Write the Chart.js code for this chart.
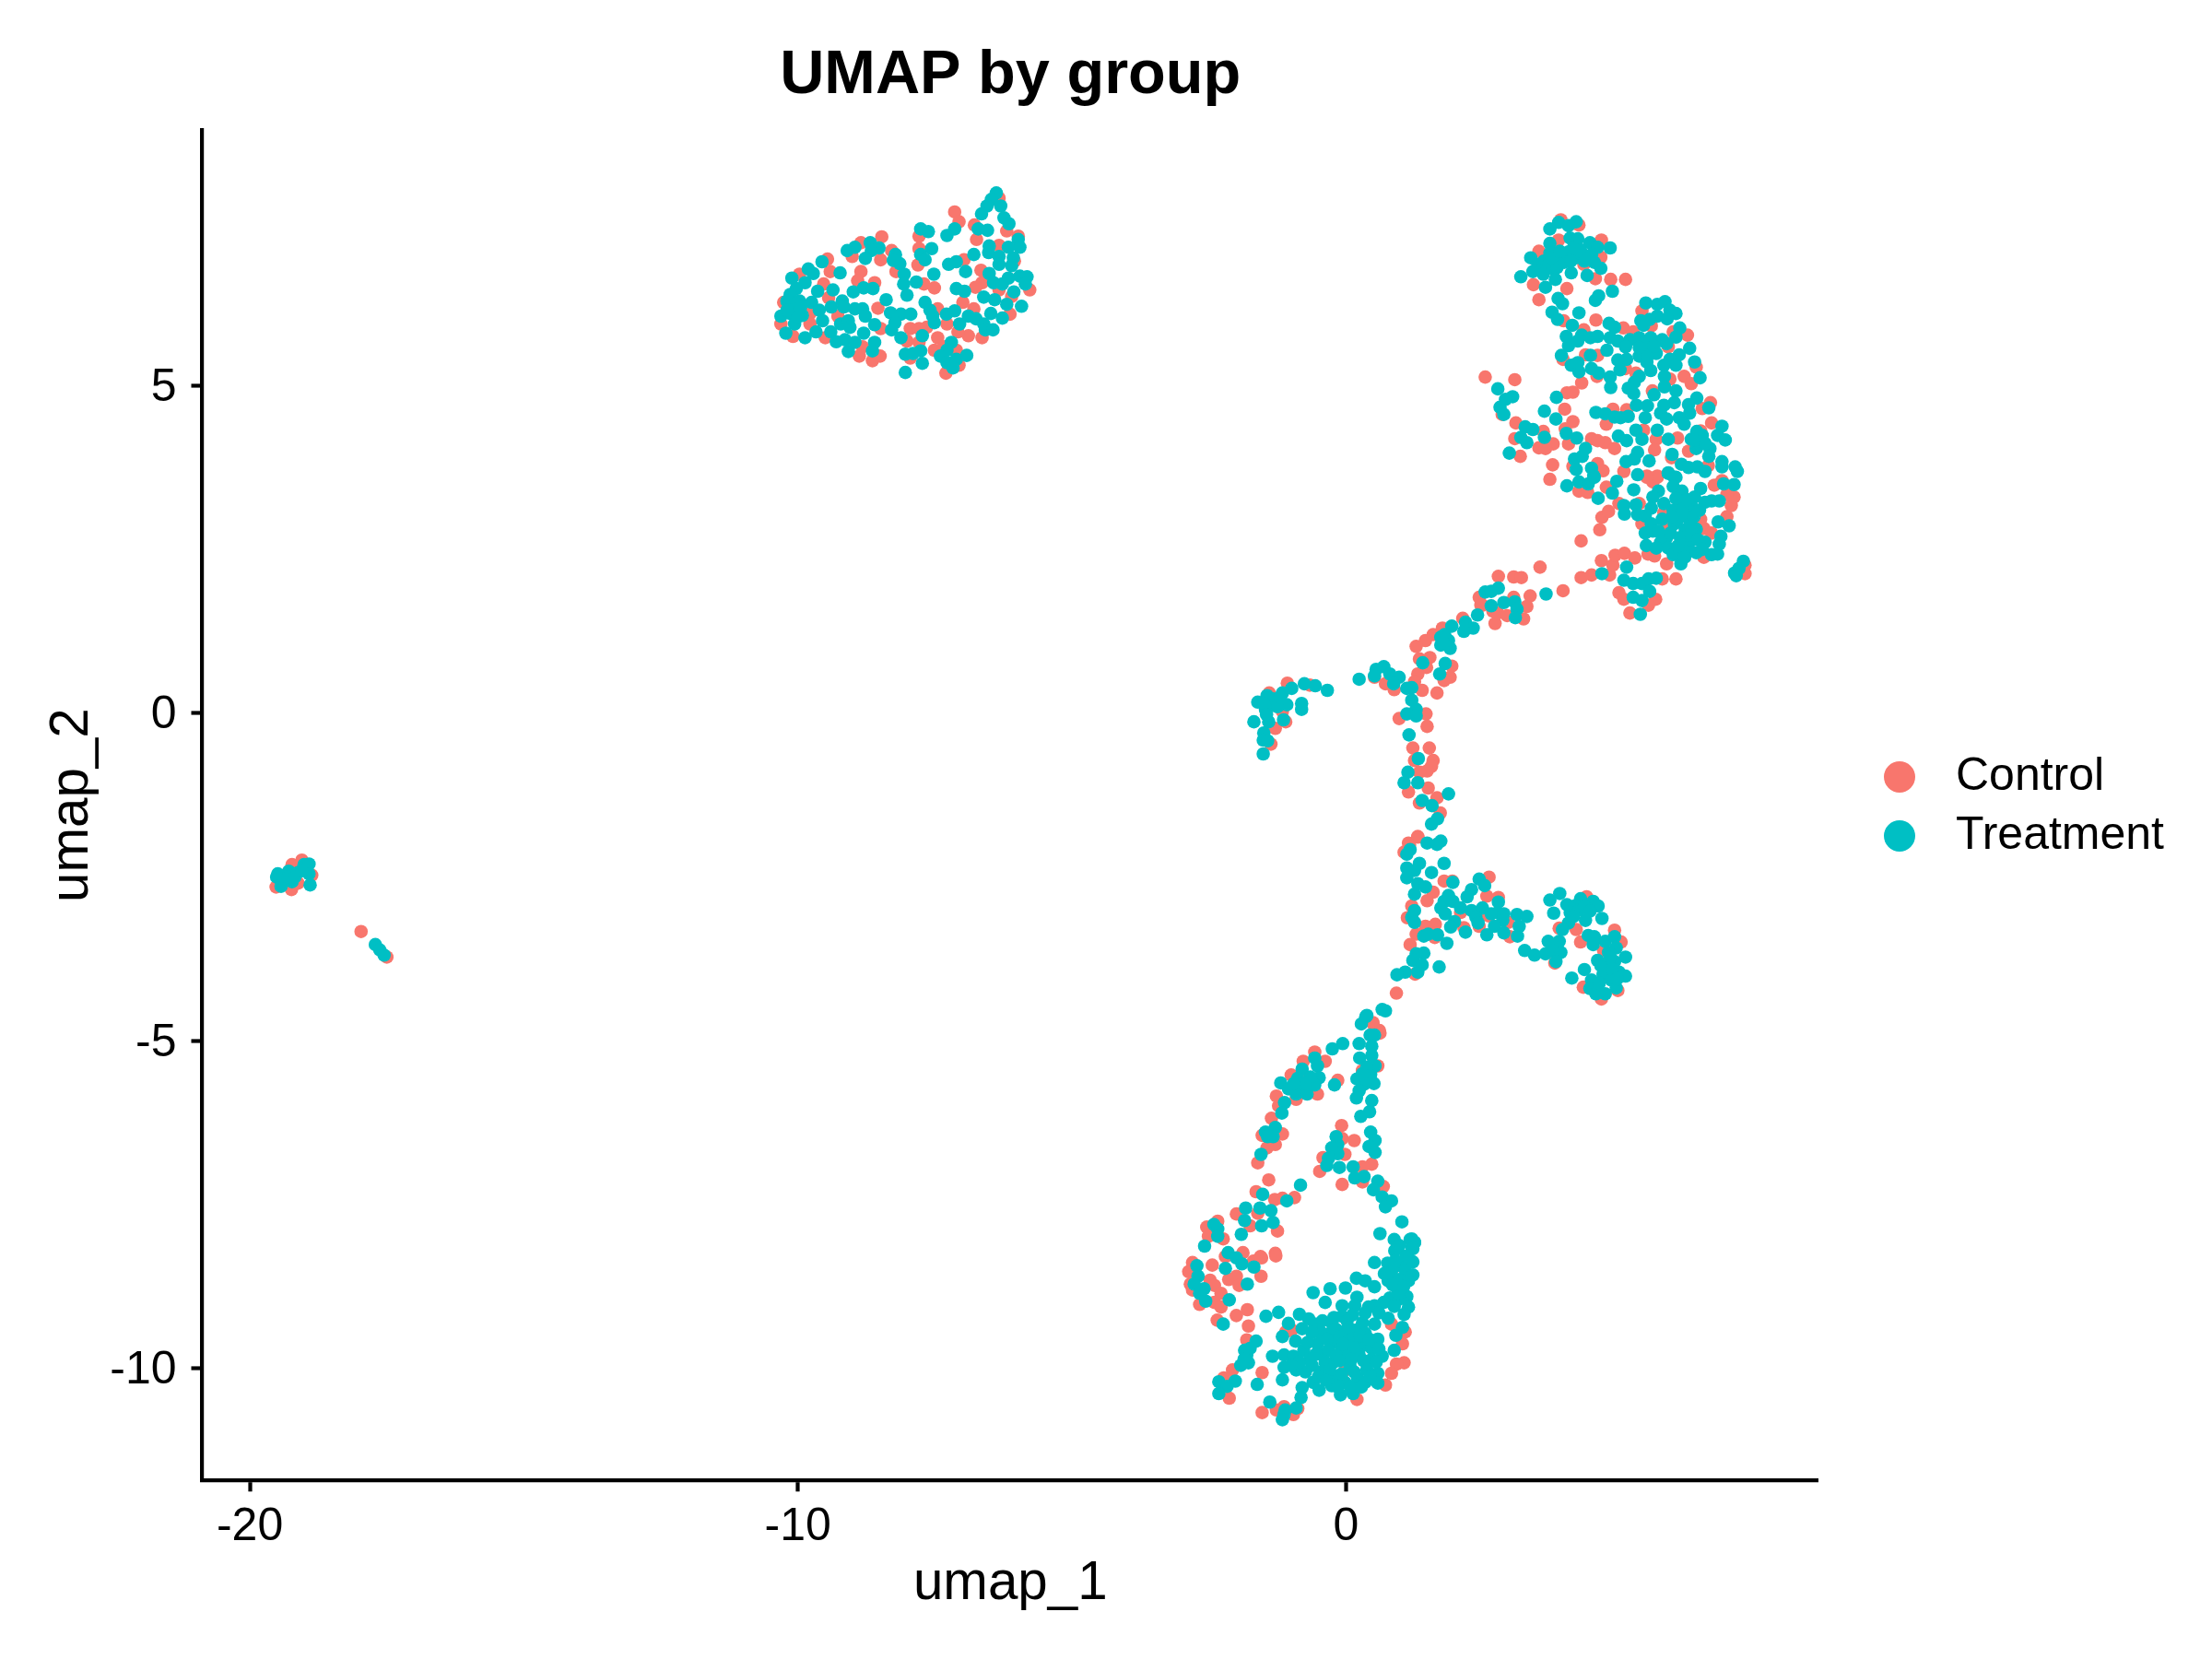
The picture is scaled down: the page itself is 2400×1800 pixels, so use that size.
<!DOCTYPE html>
<html><head><meta charset="utf-8"><style>html,body{margin:0;padding:0;background:#fff}canvas{display:block}</style>
<script src="https://cdn.jsdelivr.net/npm/chart.js@4/dist/chart.umd.js"></script></head><body>
<canvas id="c" width="2400" height="1800"></canvas>
<script>
const chartTitle="UMAP by group", xLabel="umap_1", yLabel="umap_2";
const seriesNames=["Control","Treatment"];
const seriesColors=["#F8766D","#00BFC4"];
const xTicks=[-20,-10,0], yTicks=[-10,-5,0,5];
const xRange=[-20.867,8.62], yRange=[-11.706,8.90];

const controlTopLeft=[[-7.14,7.65],[-7.06,7.50],[-6.78,7.45],[-6.74,7.23],[-6.33,7.86],[-6.19,7.36],[-5.98,7.28],[-6.33,7.14],[-6.05,6.90],[-6.97,6.92],[-6.66,6.76],[-6.64,6.57],[-6.76,6.50],[-6.33,6.46],[-5.77,6.46],[-6.10,6.36],[-6.99,6.27],[-6.79,6.17],[-6.13,6.09],[-6.89,5.76],[-6.64,5.73],[-7.08,5.82],[-7.28,5.94],[-7.79,7.28],[-7.79,7.09],[-7.81,6.84],[-7.70,6.55],[-7.51,6.49],[-7.45,6.17],[-7.95,5.87],[-7.79,5.87],[-7.65,5.89],[-7.45,5.73],[-7.79,5.66],[-7.51,5.54],[-7.34,5.59],[-8.01,5.68],[-7.95,5.42],[-7.11,5.54],[-7.30,5.19],[-7.06,5.31],[-8.47,7.27],[-8.29,7.06],[-8.49,6.92],[-8.21,6.74],[-8.85,7.18],[-9.01,6.97],[-8.85,6.74],[-8.91,6.60],[-8.60,6.57],[-8.54,6.18],[-8.49,5.87],[-8.88,5.45],[-8.64,5.38],[-8.50,5.45],[-8.82,5.59],[-9.50,5.73],[-9.27,6.06],[-9.46,6.93],[-9.41,6.74],[-9.97,6.70],[-9.53,6.55],[-9.44,6.34],[-10.26,6.27],[-9.78,6.10],[-10.31,5.94],[-10.09,5.75],[-9.78,5.94]];
const treatmentTopLeft=[[-6.38,7.94],[-6.47,7.84],[-6.30,7.74],[-6.55,7.74],[-6.65,7.62],[-6.24,7.56],[-6.15,7.47],[-6.71,7.39],[-6.54,7.37],[-7.14,7.39],[-7.28,7.29],[-7.76,7.39],[-7.62,7.35],[-5.98,7.23],[-5.95,7.11],[-6.16,7.11],[-6.51,7.13],[-6.52,7.03],[-7.56,7.09],[-7.76,7.00],[-7.68,6.92],[-6.79,7.00],[-6.33,6.97],[-6.07,6.95],[-6.33,6.85],[-6.10,6.83],[-7.11,6.89],[-7.25,6.85],[-6.94,6.74],[-7.52,6.70],[-6.51,6.71],[-6.16,6.64],[-5.95,6.67],[-5.82,6.66],[-5.85,6.55],[-6.43,6.57],[-6.27,6.55],[-7.84,6.58],[-8.06,6.70],[-8.07,6.55],[-8.01,6.38],[-8.14,6.86],[-8.22,7.00],[-8.26,6.91],[-8.68,7.18],[-8.52,7.10],[-8.66,7.06],[-8.77,6.94],[-8.96,7.11],[-9.10,7.06],[-9.56,6.89],[-9.23,6.72],[-9.81,6.78],[-9.72,6.71],[-10.11,6.64],[-9.87,6.57],[-10.03,6.48],[-10.14,6.39],[-9.64,6.44],[-9.36,6.46],[-8.99,6.43],[-8.80,6.49],[-8.63,6.48],[-8.39,6.31],[-10.20,6.29],[-9.97,6.29],[-9.75,6.27],[-9.61,6.15],[-9.39,6.20],[-9.19,6.29],[-9.16,6.20],[-8.96,6.17],[-8.82,6.17],[-8.77,6.06],[-9.55,5.99],[-10.31,6.06],[-10.14,6.10],[-9.92,6.07],[-10.06,5.94],[-10.22,5.80],[-9.87,5.73],[-9.67,5.82],[-9.40,5.82],[-9.22,5.94],[-9.08,5.99],[-9.05,5.89],[-9.30,5.67],[-9.14,5.70],[-8.96,5.66],[-9.08,5.52],[-8.60,5.93],[-8.80,5.80],[-8.60,5.66],[-8.64,5.53],[-8.31,6.11],[-8.12,6.09],[-7.94,6.09],[-8.23,5.96],[-8.29,5.85],[-8.12,5.73],[-7.68,6.27],[-7.59,6.15],[-7.54,6.06],[-7.51,5.96],[-7.29,6.09],[-7.14,6.14],[-7.11,6.48],[-6.96,6.44],[-6.61,6.35],[-6.41,6.31],[-6.19,6.24],[-6.06,6.43],[-5.92,6.21],[-6.48,6.10],[-6.27,6.03],[-6.89,6.06],[-6.75,6.02],[-7.05,5.94],[-6.61,5.94],[-6.58,5.85],[-6.44,5.85],[-7.73,5.76],[-8.04,5.48],[-7.90,5.49],[-7.76,5.53],[-7.73,5.34],[-8.04,5.20],[-7.20,5.66],[-7.28,5.54],[-7.40,5.45],[-7.28,5.35],[-7.11,5.40],[-6.92,5.46],[-7.17,5.27],[-10.05,6.25],[-10.10,6.15],[-10.00,6.05],[-10.20,6.15],[-9.95,6.20]];

const controlUpperRight=[[2.54,5.13],[3.08,5.09],[2.85,4.56],[3.92,7.53],[4.25,7.45],[4.66,7.22],[3.88,7.22],[3.52,7.05],[4.65,6.96],[4.34,6.85],[4.55,6.63],[4.83,6.62],[5.10,6.62],[3.42,6.54],[4.03,6.48],[3.52,6.31],[3.97,5.99],[4.56,6.00],[4.34,5.85],[5.40,6.14],[5.06,5.88],[5.57,5.91],[5.24,5.82],[6.23,5.77],[5.97,5.82],[5.88,5.59],[3.96,5.40],[4.37,5.47],[4.59,5.46],[4.30,5.04],[4.58,5.14],[5.10,5.26],[5.29,5.19],[5.91,5.10],[6.17,5.14],[6.30,5.03],[6.39,5.28],[5.59,4.92],[4.03,4.89],[4.14,4.90],[3.99,4.64],[4.87,4.64],[5.12,4.63],[6.65,4.74],[6.50,4.65],[3.10,4.43],[3.08,4.19],[3.18,3.92],[3.60,4.30],[3.78,4.11],[3.52,4.05],[3.64,4.04],[4.14,4.45],[4.00,4.34],[4.06,4.11],[4.75,4.41],[4.48,4.19],[4.73,4.13],[4.90,4.04],[4.59,4.16],[3.77,3.79],[3.72,3.57],[4.14,3.77],[4.59,3.81],[4.69,3.70],[5.07,3.69],[5.43,4.32],[5.66,4.18],[5.63,4.02],[6.05,4.20],[6.25,4.00],[6.47,4.31],[6.67,4.43],[6.61,3.78],[6.86,3.55],[5.68,3.62],[5.49,3.62],[5.94,3.90]];
const treatmentUpperRight=[[3.88,7.49],[4.20,7.50],[3.72,7.39],[4.06,7.44],[4.09,7.25],[4.23,7.24],[3.72,7.17],[4.45,7.18],[4.59,7.11],[4.82,7.10],[4.06,7.04],[4.28,7.07],[3.37,6.95],[3.72,7.02],[3.86,6.95],[3.61,6.90],[3.50,6.85],[4.20,6.95],[4.48,7.00],[4.53,6.88],[4.65,6.79],[3.41,6.74],[3.19,6.66],[3.78,6.78],[4.11,6.72],[4.40,6.68],[3.82,6.62],[3.64,6.50],[4.86,6.44],[4.61,6.37],[4.55,6.30],[3.87,6.33],[3.95,6.25],[3.76,6.12],[3.86,6.01],[4.25,6.11],[4.13,5.92],[4.02,5.75],[4.06,5.61],[3.93,5.46],[4.30,5.77],[4.23,5.68],[4.46,5.73],[4.59,5.75],[4.46,5.46],[4.80,5.95],[4.90,5.89],[4.82,5.73],[4.96,5.68],[4.76,5.54],[5.18,5.70],[5.10,5.59],[5.12,5.40],[4.96,5.39],[5.00,5.24],[4.11,5.31],[4.25,5.21],[4.23,5.35],[4.48,5.26],[4.61,5.19],[4.82,5.13],[4.83,4.97],[5.35,5.14],[5.26,5.05],[5.15,4.96],[5.25,4.88],[3.84,4.82],[5.62,4.86],[3.62,4.61],[3.83,4.49],[4.56,4.59],[4.73,4.57],[4.90,4.52],[5.01,4.51],[5.15,4.53],[5.30,4.70],[5.50,4.69],[5.46,4.51],[5.47,6.26],[5.68,6.24],[5.82,6.28],[5.91,6.15],[6.02,6.10],[5.86,6.02],[5.68,6.06],[5.54,6.01],[5.38,5.99],[5.43,5.92],[6.09,5.88],[6.02,5.74],[5.77,5.70],[5.85,5.64],[5.56,5.73],[5.35,5.73],[5.43,5.54],[5.66,5.49],[5.35,5.45],[5.49,5.36],[5.56,5.23],[6.27,5.57],[6.08,5.47],[5.91,5.40],[5.80,5.31],[6.02,5.31],[6.36,5.36],[5.81,5.14],[6.46,5.12],[5.81,4.98],[6.02,4.92],[5.99,4.74],[5.80,4.70],[5.74,4.58],[5.85,4.49],[5.68,4.32],[6.40,4.81],[6.25,4.71],[6.27,4.58],[6.08,4.51],[6.17,4.41],[6.62,4.66],[6.86,4.38],[6.78,4.24],[6.92,4.17],[6.50,4.24],[6.30,4.18],[6.39,4.04],[6.64,4.04],[6.62,3.92],[6.86,3.84],[6.86,3.76],[7.10,3.76],[7.14,3.69],[3.27,4.37],[3.41,4.33],[3.19,4.21],[3.30,4.13],[3.62,4.21],[2.98,3.97],[4.02,4.27],[4.21,4.20],[4.37,4.04],[4.17,3.88],[4.31,3.92],[4.20,3.72],[4.48,3.74],[4.52,3.62],[4.97,4.23],[5.12,4.16],[5.29,4.32],[5.40,4.18],[5.32,3.98],[5.11,3.84],[5.26,3.88],[5.53,3.85],[5.32,3.64],[5.88,4.18],[5.95,3.95],[6.12,3.80],[6.25,3.75],[6.41,3.76],[6.55,3.69],[5.88,3.66],[6.02,3.60],[2.77,4.95],[3.04,4.83],[2.91,4.79],[2.81,4.67],[2.88,4.56],[5.45,5.65],[5.50,5.45],[5.62,5.60],[5.35,5.58],[6.40,4.30],[6.45,4.10],[6.55,4.12],[6.35,4.17],[3.55,6.75],[3.70,6.85],[3.85,6.80],[3.98,6.88],[3.60,6.70],[3.75,6.95],[4.10,6.90],[4.35,6.90],[4.15,7.10],[3.90,7.05]];

const controlLowerRight=[[2.78,2.09],[3.06,2.08],[3.20,2.07],[3.54,2.23],[3.96,1.87],[4.29,2.63],[4.63,2.80],[4.67,2.99],[4.79,3.08],[4.29,2.07],[4.48,2.11],[4.66,2.33],[4.81,2.11],[4.87,2.26],[4.91,2.41],[5.08,2.44],[5.27,2.37],[6.02,2.05],[5.77,2.05],[5.85,2.28],[5.63,2.40],[5.51,2.43],[4.98,1.84],[5.07,1.74],[5.65,1.74],[5.18,1.53],[5.52,1.65],[4.75,3.45],[4.25,3.39],[4.41,3.37],[4.98,3.20],[5.35,3.20],[5.60,3.53],[5.68,3.60],[5.49,3.60],[5.80,3.06],[5.40,2.89],[5.88,2.85],[6.47,2.96],[6.53,2.82],[6.67,2.75],[6.95,3.00],[7.03,3.17],[7.08,3.30],[6.95,3.34],[6.86,3.53],[6.72,3.48],[6.53,2.38],[7.28,2.26],[7.28,2.13],[3.06,1.77],[3.36,1.79],[3.30,1.63],[3.24,1.44],[2.72,1.37],[2.46,1.65],[2.77,1.53],[2.94,1.49],[2.68,1.56]];
const treatmentLowerRight=[[4.03,3.47],[4.25,3.53],[4.42,3.50],[4.53,3.60],[4.94,3.54],[4.86,3.36],[4.60,3.28],[5.25,3.41],[5.70,3.39],[5.60,3.30],[5.07,3.17],[5.08,3.04],[5.29,3.18],[5.32,3.03],[5.46,3.01],[5.57,3.13],[5.77,2.96],[5.57,2.89],[5.46,2.75],[5.60,2.78],[5.48,2.56],[5.88,3.67],[5.99,3.60],[5.97,3.46],[6.13,3.39],[6.47,3.43],[6.36,3.30],[6.55,3.22],[6.67,3.24],[6.81,3.24],[6.89,3.50],[7.08,3.49],[5.97,3.10],[6.11,3.17],[6.33,3.13],[6.25,2.99],[5.99,2.89],[6.79,2.92],[6.99,2.86],[6.39,2.81],[6.19,2.80],[6.84,2.70],[6.55,2.61],[6.81,2.58],[5.85,2.68],[5.74,2.61],[5.88,2.52],[5.97,2.42],[6.11,2.28],[6.25,2.59],[6.19,2.47],[6.39,2.45],[6.67,2.42],[6.78,2.43],[7.25,2.32],[7.17,2.21],[7.09,2.14],[7.12,2.10],[4.67,2.13],[5.12,2.23],[5.07,2.03],[5.24,1.98],[5.52,2.05],[5.66,2.06],[5.40,1.98],[5.54,1.86],[5.24,1.77],[5.40,1.72],[5.37,1.51],[2.54,1.85],[2.65,1.86],[2.78,1.91],[3.65,1.82],[2.65,1.64],[2.88,1.69],[3.08,1.70],[3.12,1.59],[3.09,1.46],[2.40,1.50],[5.80,3.20],[5.92,2.75],[6.05,2.95],[6.15,3.05],[6.28,2.88],[6.10,2.68],[6.30,2.72],[6.05,2.55],[6.42,2.65],[6.35,3.00],[6.22,3.26],[6.02,3.28],[5.70,2.78],[5.66,2.52],[5.95,3.00],[6.45,3.10],[6.50,2.50],[6.18,2.38]];

const controlMiddle=[[2.43,1.77],[2.49,1.65],[2.13,1.45],[1.76,1.30],[1.59,1.20],[1.45,1.11],[1.28,1.02],[1.34,0.83],[1.53,0.85],[1.47,0.70],[1.31,0.60],[1.25,0.48],[1.39,0.35],[1.66,0.31],[1.90,0.55],[1.93,0.72],[1.79,0.50],[1.46,-0.01],[0.97,-0.08],[1.48,-0.20],[1.22,-0.53],[1.52,-0.53],[1.25,-0.72],[1.59,-0.72],[1.56,-0.81],[1.48,-0.88],[1.34,-0.90],[1.50,-1.14],[1.14,-1.20],[1.66,-1.29],[1.34,-1.37],[1.72,-1.52],[1.31,-1.88],[1.14,-1.98],[0.52,0.55],[0.72,0.45],[0.88,0.36],[-1.07,0.46],[-1.40,0.31],[-1.10,-0.13],[-1.29,-0.23],[-1.16,0.03],[-1.37,-0.47],[-0.66,0.43]];
const treatmentMiddle=[[2.18,1.39],[2.32,1.30],[2.15,1.25],[1.93,1.33],[1.73,1.16],[1.87,1.11],[1.73,1.04],[1.90,0.99],[1.40,0.77],[1.81,0.76],[1.71,0.60],[1.20,0.39],[1.11,0.38],[1.20,0.20],[1.28,0.06],[1.11,-0.01],[1.28,-0.04],[1.15,-0.33],[1.32,-0.69],[1.13,-0.90],[1.06,-1.06],[1.31,-1.06],[1.87,-1.23],[1.39,-1.33],[1.57,-1.41],[1.67,-1.61],[1.56,-1.69],[1.73,-1.95],[1.48,-1.98],[1.17,-2.08],[0.24,0.52],[0.69,0.71],[0.55,0.67],[0.52,0.57],[0.80,0.60],[0.97,0.55],[0.87,0.45],[-0.34,0.35],[-0.56,0.42],[-0.76,0.45],[-0.99,0.38],[-1.16,0.31],[-0.81,0.15],[-0.81,0.06],[-1.08,0.13],[-1.33,0.22],[-1.44,0.27],[-1.61,0.17],[-1.47,0.06],[-1.14,-0.10],[-1.68,-0.13],[-1.41,-0.13],[-1.50,-0.30],[-1.51,-0.41],[-1.43,-0.42],[-1.51,-0.62],[-1.35,0.12],[-1.50,0.15],[-1.45,-0.02],[-1.25,0.10],[-1.20,0.25],[1.80,1.20],[1.78,1.08]];

const controlBranch=[[1.31,-1.89],[1.16,-2.01],[1.06,-2.12],[1.79,-2.56],[1.94,-2.56],[2.61,-2.50],[2.57,-2.79],[2.78,-2.81],[1.59,-2.73],[1.48,-2.86],[1.20,-2.94],[1.12,-3.12],[1.45,-3.25],[1.63,-3.22],[1.28,-3.37],[1.62,-3.42],[1.17,-3.53],[2.15,-3.27],[2.09,-3.04],[2.43,-3.25],[2.96,-3.19],[2.99,-3.41],[2.60,-3.09],[1.26,-3.98],[0.92,-4.27],[0.49,-4.73],[0.61,-4.84],[4.39,-2.80],[3.89,-3.28],[4.20,-3.30],[4.28,-3.49],[4.90,-3.31],[5.02,-3.49],[4.70,-3.62],[3.81,-3.81],[4.33,-4.18],[4.96,-4.23],[4.66,-4.36]];
const treatmentBranch=[[1.66,-2.00],[1.11,-2.15],[1.79,-2.29],[1.34,-2.29],[1.11,-2.36],[1.25,-2.40],[1.56,-2.43],[1.11,-2.51],[1.95,-2.58],[1.31,-2.60],[1.45,-2.65],[1.25,-2.76],[2.43,-2.53],[2.53,-2.63],[2.29,-2.69],[2.21,-2.80],[1.87,-2.78],[1.79,-2.87],[1.95,-2.87],[1.73,-2.97],[1.81,-3.06],[2.09,-2.97],[2.29,-3.01],[2.49,-2.97],[2.37,-3.11],[2.41,-3.20],[2.78,-2.88],[2.77,-3.04],[2.65,-3.06],[2.88,-3.06],[2.86,-3.16],[3.12,-3.07],[3.30,-3.10],[1.25,-3.01],[1.20,-3.11],[1.25,-3.19],[1.98,-3.18],[1.91,-3.26],[2.18,-3.34],[1.42,-3.40],[1.50,-3.37],[1.67,-3.38],[1.84,-3.51],[2.57,-3.38],[2.71,-3.25],[2.88,-3.35],[3.16,-3.25],[3.13,-3.40],[1.42,-3.66],[1.28,-3.67],[1.22,-3.77],[1.39,-3.84],[1.70,-3.87],[1.31,-3.95],[1.08,-3.95],[0.93,-3.99],[0.66,-4.52],[0.72,-4.54],[0.38,-4.61],[3.26,-3.62],[3.44,-3.69],[3.69,-3.48],[3.89,-3.48],[3.64,-3.67],[3.78,-3.62],[3.92,-3.65],[3.83,-3.79],[3.72,-2.85],[3.90,-2.75],[3.79,-3.05],[4.03,-2.92],[4.09,-3.04],[4.28,-2.83],[4.51,-2.87],[4.60,-2.94],[4.17,-2.94],[4.37,-3.16],[4.67,-3.13],[4.06,-3.20],[3.95,-3.30],[4.42,-3.39],[4.53,-3.41],[4.51,-3.53],[4.73,-3.48],[4.90,-3.41],[4.93,-3.58],[4.79,-3.65],[5.10,-3.72],[4.59,-3.77],[4.90,-3.79],[4.76,-3.84],[4.35,-3.91],[4.98,-3.95],[4.69,-3.98],[5.10,-4.01],[4.12,-4.04],[4.48,-4.07],[4.84,-4.07],[4.45,-4.20],[4.56,-4.28],[4.73,-4.28],[4.93,-4.19],[4.82,-3.72],[4.85,-3.90],[4.65,-3.85],[4.95,-4.05],[4.62,-4.12],[4.25,-3.00],[4.35,-2.95],[4.45,-3.02],[4.15,-3.10]];

const controlLoop=[[0.49,-4.72],[0.62,-4.88],[-0.57,-5.17],[-0.38,-5.31],[-0.78,-5.31],[0.58,-5.38],[0.30,-5.45],[-1.00,-5.52],[-0.69,-5.59],[-0.15,-5.60],[-0.52,-5.81],[-1.27,-5.84],[-0.91,-5.89],[-1.23,-5.99],[-1.36,-6.18],[-0.08,-6.29],[0.15,-6.52],[-1.16,-6.42],[-1.53,-6.44],[-1.29,-6.58],[-1.44,-6.63],[-1.61,-6.86],[-0.07,-6.49],[-0.02,-6.73],[-0.42,-6.78],[-0.48,-6.99],[-0.07,-7.19],[0.47,-6.88],[0.30,-6.92],[0.30,-7.15],[0.68,-7.22],[-1.41,-7.12],[-0.94,-7.39],[-1.16,-7.40],[-1.30,-7.42],[-1.64,-7.30],[-1.61,-7.63],[-1.25,-7.90],[-1.29,-8.24],[-1.56,-8.29]];
const treatmentLoop=[[0.36,-4.63],[0.28,-4.74],[0.44,-4.91],[0.52,-4.91],[0.24,-5.04],[0.47,-5.08],[0.47,-5.22],[0.25,-5.26],[0.53,-5.38],[0.45,-5.51],[0.20,-5.58],[0.33,-5.66],[0.51,-5.65],[0.38,-5.59],[0.24,-5.76],[0.19,-5.87],[0.47,-5.91],[0.43,-6.08],[0.27,-6.15],[-0.06,-5.04],[-0.25,-5.12],[-0.57,-5.26],[-0.52,-5.38],[-0.80,-5.43],[-0.49,-5.56],[-0.88,-5.57],[-1.19,-5.64],[-0.57,-5.67],[-1.05,-5.73],[-0.83,-5.71],[-0.91,-5.81],[-0.71,-5.81],[-0.21,-5.67],[-1.12,-5.94],[-1.17,-6.10],[-1.29,-6.32],[-1.47,-6.39],[-1.33,-6.46],[-1.43,-6.46],[-1.55,-6.73],[-0.18,-6.46],[-0.15,-6.58],[-0.26,-6.63],[-0.15,-6.72],[-0.32,-6.79],[-0.35,-6.90],[-0.12,-6.93],[0.45,-6.39],[0.53,-6.52],[0.42,-6.61],[0.53,-6.70],[0.13,-6.92],[0.16,-7.09],[0.33,-7.07],[0.58,-7.14],[0.50,-7.27],[0.66,-7.38],[0.83,-7.44],[0.72,-7.53],[1.02,-7.76],[0.62,-7.94],[-0.83,-7.20],[-1.08,-7.44],[-1.52,-7.34],[-1.37,-7.59],[-1.57,-7.55],[-1.33,-7.77],[-1.54,-7.82],[0.88,-8.03],[1.17,-8.03],[1.25,-8.07],[0.94,-8.15],[1.20,-8.15],[0.38,-5.40],[0.30,-5.50],[-0.65,-5.55],[-0.75,-5.65],[-0.95,-5.65]];

const controlBottom=[[-2.00,-7.64],[-1.75,-7.82],[-2.34,-7.75],[-2.54,-7.84],[-2.51,-7.98],[-2.24,-8.02],[-2.20,-8.29],[-1.88,-8.23],[-1.69,-8.36],[-1.54,-8.31],[-1.28,-8.28],[-2.80,-8.38],[-2.44,-8.42],[-2.87,-8.52],[-2.84,-8.71],[-2.80,-8.80],[-2.48,-8.65],[-2.40,-8.73],[-2.14,-8.64],[-2.00,-8.59],[-1.95,-8.73],[-1.55,-8.59],[-2.28,-8.85],[-2.67,-9.02],[-2.40,-8.99],[-2.28,-9.06],[-2.35,-9.26],[-2.00,-9.19],[-1.80,-9.10],[-1.78,-9.35],[-1.81,-9.56],[-2.07,-10.02],[-1.53,-10.06],[-2.23,-10.14],[-2.13,-10.45],[-1.53,-10.67],[-1.27,-10.63],[-1.13,-10.58],[-0.88,-10.61],[-0.96,-10.70],[0.83,-9.32],[1.08,-9.44],[1.03,-9.62],[1.06,-9.91],[0.92,-9.93],[0.83,-10.07],[0.72,-10.25],[-0.01,-10.02],[0.20,-10.47],[-1.10,-9.44],[-0.99,-9.41]];
const treatmentBottom=[[-1.83,-7.55],[-1.85,-7.74],[-1.91,-7.95],[-2.41,-7.80],[-2.34,-7.87],[-2.34,-7.98],[-2.58,-8.13],[-2.15,-8.23],[-2.00,-8.31],[-1.90,-8.40],[-1.68,-8.45],[-2.20,-8.47],[-2.72,-8.43],[-2.70,-8.59],[-2.77,-8.71],[-2.59,-8.78],[-2.67,-8.85],[-2.56,-8.97],[-1.80,-8.71],[-2.13,-8.95],[-2.24,-9.32],[-1.46,-9.20],[-1.23,-9.14],[-0.60,-8.84],[-0.29,-8.78],[-0.01,-8.77],[-0.38,-8.99],[0.19,-8.62],[0.35,-8.66],[0.52,-8.75],[0.20,-8.91],[0.16,-9.04],[-0.07,-9.04],[0.52,-8.38],[0.76,-8.39],[1.20,-8.02],[1.25,-8.08],[0.97,-8.12],[0.89,-8.20],[1.22,-8.17],[1.22,-8.37],[1.00,-8.43],[0.83,-8.52],[1.08,-8.50],[1.22,-8.57],[0.77,-8.66],[0.97,-8.64],[1.14,-8.66],[0.94,-8.78],[1.11,-8.90],[0.80,-8.92],[0.97,-8.94],[1.14,-9.06],[1.06,-9.17],[0.69,-8.99],[0.52,-9.04],[0.41,-9.06],[0.77,-9.23],[1.03,-9.37],[0.91,-9.49],[0.88,-9.72],[-0.85,-9.17],[-0.68,-9.24],[-1.05,-9.31],[-0.80,-9.39],[-0.57,-9.32],[-0.43,-9.27],[-0.26,-9.30],[-0.07,-9.20],[0.02,-9.27],[0.30,-9.30],[0.52,-9.32],[0.19,-9.41],[0.35,-9.46],[0.58,-9.55],[-0.29,-9.46],[-0.04,-9.44],[-1.16,-9.51],[-0.92,-9.58],[-0.52,-9.62],[-0.26,-9.60],[-0.10,-9.65],[0.30,-9.65],[0.47,-9.69],[-0.77,-9.72],[-0.43,-9.79],[-0.02,-9.77],[0.24,-9.79],[0.66,-9.81],[-1.34,-9.81],[-1.13,-9.79],[-0.96,-9.81],[-0.66,-9.86],[-0.24,-9.91],[0.47,-9.86],[0.07,-9.95],[-1.13,-9.98],[-0.91,-10.02],[-0.74,-10.05],[-0.46,-10.05],[0.58,-10.07],[-0.18,-10.12],[0.21,-10.14],[-1.16,-10.17],[-0.02,-10.21],[0.35,-10.21],[0.58,-10.22],[-0.60,-10.21],[-0.80,-10.29],[-0.49,-10.33],[-0.26,-10.26],[-0.10,-10.40],[0.13,-10.38],[-0.82,-10.44],[-1.81,-9.79],[-1.64,-9.58],[-1.75,-9.69],[-1.85,-9.72],[-1.92,-9.95],[-1.78,-9.91],[-1.86,-9.86],[-2.02,-10.19],[-2.32,-10.20],[-2.17,-10.27],[-2.32,-10.38],[-1.62,-10.24],[-1.39,-10.51],[-1.11,-10.63],[-0.91,-10.60],[-1.13,-10.70],[-1.16,-10.78],[-0.45,-9.45],[-0.35,-9.55],[-0.18,-9.40],[-0.12,-9.52],[0.05,-9.38],[0.10,-9.55],[0.25,-9.50],[0.15,-9.68],[-0.05,-9.62],[-0.32,-9.72],[-0.18,-9.80],[-0.38,-9.90],[-0.55,-9.78],[-0.62,-9.95],[-0.50,-10.12],[-0.30,-10.02],[-0.12,-9.88],[0.10,-9.85],[0.32,-9.88],[0.38,-10.02],[0.15,-10.05],[-0.08,-10.08],[-0.70,-9.60],[-0.62,-9.45],[0.42,-9.55],[0.60,-9.70],[0.55,-9.90],[-0.85,-9.90],[-1.00,-9.95],[-0.36,-10.18],[0.44,-10.12],[0.28,-10.28],[0.08,-10.28],[-0.15,-10.28],[-0.22,-9.22],[0.12,-9.18],[0.35,-9.15],[0.60,-9.15],[0.88,-9.05],[0.95,-8.85],[0.85,-8.72],[1.05,-8.75],[0.70,-8.55],[0.90,-8.35],[1.10,-8.28]];

const controlFarLeft=[[-19.52,-2.65],[-19.24,-2.69],[-19.23,-2.31],[-19.05,-2.24],[-18.87,-2.47],[-19.12,-2.59],[-17.97,-3.33],[-17.50,-3.72]];
const treatmentFarLeft=[[-19.49,-2.45],[-19.51,-2.50],[-19.43,-2.64],[-19.34,-2.55],[-19.29,-2.41],[-19.23,-2.57],[-19.12,-2.43],[-19.01,-2.31],[-18.92,-2.30],[-18.92,-2.45],[-18.90,-2.62],[-19.40,-2.48],[-19.30,-2.50],[-19.18,-2.50],[-19.05,-2.40],[-17.71,-3.53],[-17.63,-3.61],[-17.55,-3.69]];

const controlValues=[controlTopLeft,controlUpperRight,controlLowerRight,controlMiddle,controlBranch,controlLoop,controlBottom,controlFarLeft].flat();
const treatmentValues=[treatmentTopLeft,treatmentUpperRight,treatmentLowerRight,treatmentMiddle,treatmentBranch,treatmentLoop,treatmentBottom,treatmentFarLeft].flat();
const toPoints=a=>a.map(p=>({x:p[0],y:p[1]}));

const FONT="'Liberation Sans', Arial, sans-serif";
function legendDot(color){const c=document.createElement('canvas');c.width=36;c.height=36;const g=c.getContext('2d');g.fillStyle=color;g.beginPath();g.arc(18,18,17,0,Math.PI*2);g.fill();return c;}
const legendPlace={id:'legendPlace',afterLayout(chart){const l=chart.legend;l.left=2011;l.top=804;l.right=2400;l.bottom=1000;}};
const axisBase={border:{color:'#000',width:4.2},grid:{display:true,drawOnChartArea:false,drawTicks:true,tickLength:12,tickWidth:4.2,tickColor:'#000',color:'#000'}};
new Chart(document.getElementById('c'),{
 type:'scatter',
 data:{datasets:[
  {label:seriesNames[0],data:toPoints(controlValues),backgroundColor:seriesColors[0],borderWidth:0,pointRadius:7.3,order:2},
  {label:seriesNames[1],data:toPoints(treatmentValues),backgroundColor:seriesColors[1],borderWidth:0,pointRadius:7.3,order:1}
 ]},
 plugins:[legendPlace],
 options:{
  responsive:false,animation:false,devicePixelRatio:1,
  layout:{padding:{left:0,right:80,top:0,bottom:0}},
  plugins:{
   tooltip:{enabled:false},
   title:{display:true,text:chartTitle,fullSize:false,color:'#000',font:{family:FONT,size:66.7,weight:'bold'},padding:{top:43,bottom:18}},
   legend:{display:true,position:'right',align:'start',labels:{font:{family:FONT,size:50},color:'#000',usePointStyle:true,pointStyleWidth:72,boxHeight:24,padding:14,
     sort:(a,b)=>a.datasetIndex-b.datasetIndex,
     generateLabels(chart){const items=Chart.defaults.plugins.legend.labels.generateLabels(chart);items.forEach(it=>{it.pointStyle=legendDot(seriesColors[it.datasetIndex]);});return items;}}}
  },
  scales:{
   x:{...axisBase,type:'linear',min:xRange[0],max:xRange[1],
     afterBuildTicks(s){s.ticks=xTicks.map(v=>({value:v}));},
     afterFit(s){s.height=193.7;},
     ticks:{color:'#000',font:{family:FONT,size:50},padding:9,maxRotation:0,autoSkip:false,callback:v=>String(v)},
     title:{display:true,text:xLabel,color:'#000',font:{family:FONT,size:58.3},padding:{top:46,bottom:46}}},
   y:{...axisBase,type:'linear',min:yRange[0],max:yRange[1],
     afterBuildTicks(s){s.ticks=yTicks.map(v=>({value:v}));},
     afterFit(s){s.width=219.5;},
     ticks:{color:'#000',font:{family:FONT,size:50},padding:16,labelOffset:2.5,autoSkip:false,callback:v=>String(v)},
     title:{display:true,text:yLabel,color:'#000',font:{family:FONT,size:58.3},padding:{top:44,bottom:44}}}
  }
 }
});
</script></body></html>
